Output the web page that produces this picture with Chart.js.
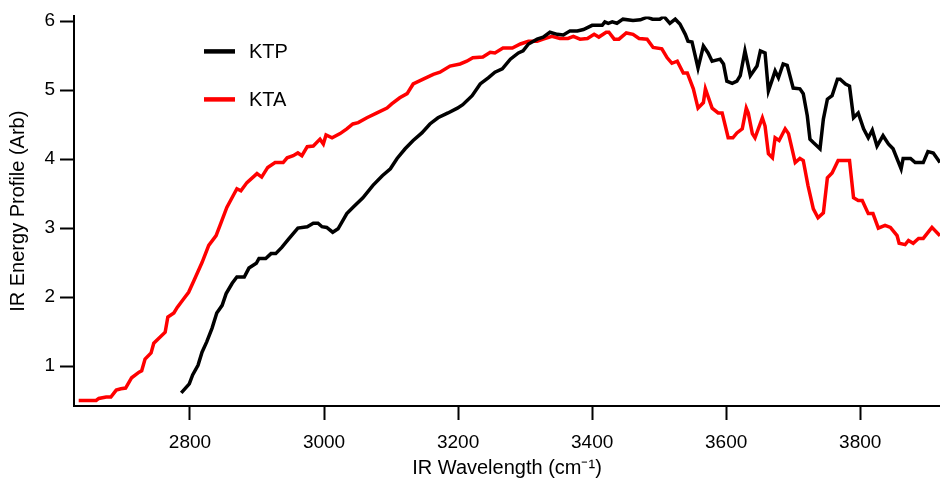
<!DOCTYPE html>
<html>
<head>
<meta charset="utf-8">
<script src="https://cdn.jsdelivr.net/npm/chart.js@4"></script>
<style>
    html, body { margin: 0; padding: 0; background: #fff; }
    #wrap { width: 940px; height: 480px; }
</style>
</head>
<body>
<div id="wrap"><canvas id="ir-chart" width="940" height="480"></canvas></div>
<script>
// wavenumbers (cm-1) and energy profile values
const ktaX = [2634, 2660, 2664, 2675, 2682, 2690, 2697, 2704, 2713, 2724, 2728, 2733, 2742, 2746, 2763, 2767, 2776, 2781, 2791, 2798,
    2806, 2818, 2828, 2839, 2846, 2855, 2870, 2876, 2885, 2900, 2907, 2916, 2927, 2939, 2945, 2954, 2961, 2967, 2975, 2984,
    2994, 2999, 3003, 3012, 3024, 3034, 3043, 3051, 3064, 3079, 3094, 3101, 3113, 3124, 3133, 3148, 3163, 3173, 3188, 3203,
    3213, 3222, 3237, 3248, 3255, 3267, 3281, 3293, 3305, 3318, 3327, 3340, 3352, 3364, 3372, 3382, 3393, 3403, 3410, 3421,
    3425, 3433, 3440, 3451, 3461, 3470, 3482, 3491, 3504, 3512, 3519, 3527, 3536, 3542, 3551, 3558, 3566, 3569, 3579, 3588,
    3594, 3603, 3610, 3616, 3624, 3630, 3633, 3639, 3643, 3654, 3658, 3663, 3669, 3673, 3679, 3688, 3693, 3703, 3710, 3715,
    3722, 3730, 3737, 3745, 3751, 3758, 3767, 3784, 3790, 3797, 3803, 3812, 3819, 3827, 3837, 3845, 3855, 3858, 3867, 3872,
    3879, 3887, 3894, 3907, 3919];
const ktaY = [0.50, 0.50, 0.53, 0.55, 0.55, 0.65, 0.67, 0.68, 0.83, 0.91, 0.93, 1.10, 1.19, 1.33, 1.49, 1.71, 1.77, 1.85, 1.98, 2.07,
    2.24, 2.50, 2.75, 2.89, 3.07, 3.30, 3.57, 3.54, 3.66, 3.79, 3.74, 3.88, 3.95, 3.95, 4.02, 4.05, 4.09, 4.05, 4.18, 4.19,
    4.29, 4.22, 4.35, 4.31, 4.37, 4.44, 4.51, 4.53, 4.60, 4.67, 4.74, 4.80, 4.89, 4.95, 5.09, 5.16, 5.23, 5.26, 5.35, 5.38,
    5.42, 5.47, 5.48, 5.55, 5.54, 5.61, 5.61, 5.67, 5.71, 5.71, 5.74, 5.78, 5.75, 5.75, 5.78, 5.74, 5.75, 5.81, 5.77, 5.84,
    5.84, 5.74, 5.74, 5.83, 5.81, 5.75, 5.74, 5.62, 5.60, 5.47, 5.39, 5.42, 5.25, 5.25, 5.02, 4.74, 4.82, 5.02, 4.74, 4.67,
    4.67, 4.31, 4.31, 4.38, 4.44, 4.74, 4.67, 4.37, 4.31, 4.60, 4.48, 4.08, 4.02, 4.31, 4.27, 4.44, 4.37, 3.95, 4.01, 3.98,
    3.62, 3.28, 3.15, 3.22, 3.73, 3.80, 3.98, 3.98, 3.44, 3.40, 3.40, 3.21, 3.21, 3.00, 3.04, 3.01, 2.89, 2.78, 2.76, 2.82,
    2.78, 2.85, 2.85, 3.01, 2.89];

const ktpX = [2787, 2799, 2804, 2812, 2818, 2825, 2833, 2840, 2848, 2854, 2863, 2870, 2881, 2888, 2899, 2903, 2913, 2921, 2928, 2937,
    2948, 2961, 2975, 2984, 2991, 2997, 3004, 3013, 3021, 3034, 3043, 3058, 3073, 3087, 3099, 3109, 3121, 3133, 3146, 3158,
    3170, 3185, 3199, 3207, 3221, 3233, 3245, 3255, 3266, 3278, 3290, 3297, 3305, 3318, 3327, 3337, 3348, 3357, 3367, 3378,
    3387, 3400, 3415, 3419, 3424, 3430, 3437, 3446, 3461, 3472, 3482, 3490, 3501, 3507, 3516, 3524, 3531, 3539, 3543, 3549,
    3554, 3558, 3566, 3573, 3579, 3591, 3596, 3601, 3609, 3616, 3621, 3628, 3636, 3646, 3651, 3658, 3663, 3669, 3673, 3678,
    3685, 3691, 3700, 3710, 3715, 3721, 3725, 3730, 3740, 3745, 3751, 3758, 3766, 3770, 3778, 3784, 3790, 3797, 3805, 3812,
    3818, 3825, 3834, 3842, 3849, 3861, 3864, 3875, 3882, 3894, 3901, 3909, 3919];
const ktpY = [0.61, 0.74, 0.87, 1.01, 1.20, 1.35, 1.55, 1.77, 1.88, 2.05, 2.20, 2.29, 2.29, 2.42, 2.49, 2.56, 2.56, 2.63, 2.63, 2.72,
    2.85, 3.00, 3.02, 3.07, 3.07, 3.02, 3.01, 2.94, 2.99, 3.21, 3.30, 3.44, 3.62, 3.76, 3.86, 4.01, 4.15, 4.27, 4.38, 4.51,
    4.60, 4.67, 4.74, 4.79, 4.92, 5.09, 5.18, 5.26, 5.31, 5.45, 5.54, 5.57, 5.67, 5.74, 5.77, 5.84, 5.81, 5.80, 5.86, 5.86,
    5.88, 5.94, 5.94, 5.99, 5.97, 5.99, 5.97, 6.03, 6.01, 6.02, 6.06, 6.03, 6.03, 6.07, 5.97, 6.03, 5.96, 5.81, 5.71, 5.70,
    5.49, 5.32, 5.64, 5.54, 5.42, 5.45, 5.38, 5.13, 5.10, 5.13, 5.21, 5.57, 5.21, 5.35, 5.57, 5.54, 4.99, 5.16, 5.28, 5.18,
    5.38, 5.36, 5.03, 5.02, 4.95, 4.63, 4.29, 4.24, 4.15, 4.58, 4.87, 4.92, 5.16, 5.16, 5.09, 5.06, 4.60, 4.67, 4.44, 4.31,
    4.42, 4.19, 4.34, 4.22, 4.15, 3.86, 4.01, 4.01, 3.95, 3.95, 4.11, 4.09, 3.95];

const xTicks = [2800, 3000, 3200, 3400, 3600, 3800];
const yTicks = [1, 2, 3, 4, 5, 6];

const fontFamily = '"Liberation Sans", Arial, Helvetica, sans-serif';

function toPoints(xs, ys) {
    return xs.map((x, i) => ({ x: x, y: ys[i] }));
}

// legend drawn inside the plot, top left
const insideLegend = {
    id: 'insideLegend',
    afterDraw(chart) {
        const ctx = chart.ctx;
        const area = chart.chartArea;
        ctx.save();
        ctx.font = '20px ' + fontFamily;
        ctx.textBaseline = 'middle';
        chart.data.datasets.forEach((ds, i) => {
            const y = area.top + 35 + i * 48;
            ctx.strokeStyle = ds.borderColor;
            ctx.lineWidth = 4.5;
            ctx.beginPath();
            ctx.moveTo(area.left + 130, y);
            ctx.lineTo(area.left + 161, y);
            ctx.stroke();
            ctx.fillStyle = '#000';
            ctx.fillText(ds.label, area.left + 175, y + 1);
        });
        ctx.restore();
    }
};

const axisGrid = {
    drawOnChartArea: false,
    drawTicks: true,
    tickLength: 14,
    tickWidth: 2,
    tickColor: '#000'
};

new Chart(document.getElementById('ir-chart'), {
    type: 'line',
    data: {
        datasets: [{
            label: 'KTP',
            data: toPoints(ktpX, ktpY),
            borderColor: '#000000',
            borderWidth: 3.5,
            pointRadius: 0,
            tension: 0
        }, {
            label: 'KTA',
            data: toPoints(ktaX, ktaY),
            borderColor: '#ff0000',
            borderWidth: 3.5,
            pointRadius: 0,
            tension: 0
        }]
    },
    options: {
        responsive: false,
        animation: false,
        layout: { padding: { top: 15, right: 0, left: 0, bottom: 0 } },
        plugins: {
            legend: { display: false },
            tooltip: { enabled: false }
        },
        scales: {
            x: {
                type: 'linear',
                min: 2627,
                max: 3919,
                afterBuildTicks: (scale) => {
                    scale.ticks = xTicks.map(v => ({ value: v }));
                },
                afterFit: (scale) => { scale.height = 74; },
                grid: axisGrid,
                border: { display: true, color: '#000', width: 2 },
                ticks: {
                    color: '#000',
                    padding: 11,
                    maxRotation: 0,
                    callback: (v) => String(v),
                    font: { family: fontFamily, size: 19 }
                },
                title: {
                    display: true,
                    text: 'IR Wavelength (cm⁻¹)',
                    color: '#000',
                    padding: { top: 0, bottom: 0 },
                    font: { family: fontFamily, size: 20 }
                }
            },
            y: {
                min: 0.42,
                max: 6.07,
                afterBuildTicks: (scale) => {
                    scale.ticks = yTicks.map(v => ({ value: v }));
                },
                afterFit: (scale) => { scale.width = 74; },
                grid: axisGrid,
                border: { display: true, color: '#000', width: 2 },
                ticks: {
                    color: '#000',
                    padding: 5,
                    callback: (v) => String(v),
                    font: { family: fontFamily, size: 19 }
                },
                title: {
                    display: true,
                    text: 'IR Energy Profile (Arb)',
                    color: '#000',
                    padding: { top: 6, bottom: 0 },
                    font: { family: fontFamily, size: 20 }
                }
            }
        }
    },
    plugins: [insideLegend]
});
</script>
</body>
</html>
